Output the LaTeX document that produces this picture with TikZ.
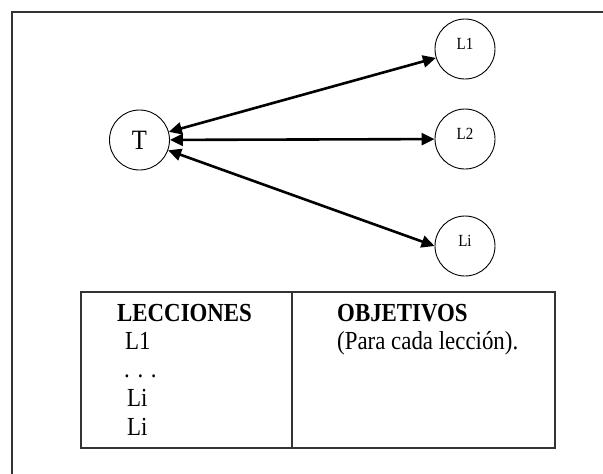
\documentclass[tikz,border=0pt]{standalone}
\usepackage{fontspec}
\usepackage{graphicx}
\setmainfont{Liberation Serif}
\usetikzlibrary{arrows.meta}
\definecolor{framegray}{HTML}{333333}
\newcommand{\narrowtext}[1]{\scalebox{0.88}[1]{#1}}
\tikzset{
  lnode/.style={draw=black, line width=0.9pt, circle, minimum size=60pt, inner sep=0pt},
  biarrow/.style={line width=2.6pt, {Triangle[length=13pt,width=12pt]}-{Triangle[length=13pt,width=12pt]}},
  frameline/.style={draw=framegray, line width=2.2pt},
  tabtext/.style={anchor=base west, inner sep=0pt, font=\fontsize{26pt}{28pt}\selectfont},
  tabhead/.style={tabtext, font=\fontsize{26pt}{28pt}\selectfont\bfseries},
  smalllabel/.style={font=\fontsize{17pt}{19pt}\selectfont}
}
\begin{document}
\begin{tikzpicture}[x=1pt, y=-1pt]
\clip (0,0) rectangle (603,474);
\fill[white] (0,0) rectangle (603,474);
% outer frame (right and bottom edges lie outside the picture)
\draw[frameline] (12,620) -- (12,12) -- (700,12);
% nodes
\node[lnode, font=\fontsize{28pt}{30pt}\selectfont] (T) at (139.5,140) {\narrowtext{T}};
\node[lnode] (L1) at (465,49) {};
\node[lnode] (L2) at (465,139) {};
\node[lnode] (Li) at (465,246) {};
\node[smalllabel] (tL1) at (465,44) {\narrowtext{L1}};
\node[smalllabel] (tL2) at (465,134) {\narrowtext{L2}};
\node[smalllabel] (tLi) at (465,241) {\narrowtext{Li}};
% connectors
\draw[biarrow] (T) -- (L1.197);
\draw[biarrow] (T) -- (L2);
\draw[biarrow] (T) -- (Li.west);
% table
\draw[frameline] (81,292) rectangle (555,448);
\draw[draw=framegray, line width=1.5pt] (292,292) -- (292,448);
\node[tabhead] (h1) at (117,321) {\narrowtext{LECCIONES}};
\node[tabhead] (h2) at (337,321) {\narrowtext{OBJETIVOS}};
\node[tabtext] (r1) at (125,349) {\narrowtext{L1}};
\node[tabtext] (r2) at (124,377) {\narrowtext{. . .}};
\node[tabtext] (r3) at (127,406) {\narrowtext{Li}};
\node[tabtext] (r4) at (127,435) {\narrowtext{Li}};
\node[tabtext] (o1) at (337,349) {\narrowtext{(Para cada lección).}};
\end{tikzpicture}
\end{document}
